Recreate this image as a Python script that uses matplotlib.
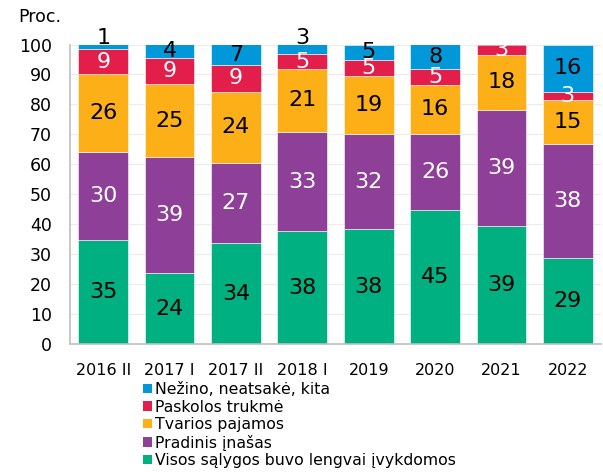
import matplotlib.pyplot as plt
import numpy as np

periods = ['2016 II', '2017 I', '2017 II', '2018 I', '2019', '2020', '2021', '2022']
series_names = ['Visos sąlygos buvo lengvai įvykdomos', 'Pradinis įnašas',
                'Tvarios pajamos', 'Paskolos trukmė', 'Nežino, neatsakė, kita']
visos = [34.6, 23.7, 33.6, 37.6, 38.3, 44.6, 39.3, 28.7]
pradinis = [29.5, 38.6, 27.0, 33.2, 31.8, 25.6, 38.9, 38.1]
tvarios = [25.9, 24.6, 23.6, 21.1, 19.4, 16.2, 18.4, 14.6]
trukme = [8.6, 8.7, 9.0, 4.8, 5.4, 5.3, 3.4, 2.6]
nezino = [1.4, 4.4, 6.8, 3.3, 5.1, 8.3, 0.0, 16.0]

colors = ['#00B081', '#8E3F97', '#FCAF17', '#E41E4A', '#0098D8']
label_colors = ['black', 'white', 'black', 'white', 'black']


def main():
	fig = plt.figure(figsize=(6.03, 4.72), dpi=100)
	ax = fig.add_axes([70/603, 1-344/472, 531/603, 299.5/472])
	data = [visos, pradinis, tvarios, trukme, nezino]
	x = np.arange(len(periods))
	bottom = np.zeros(len(periods))
	handles = []
	for k, vals in enumerate(data):
		vals = np.array(vals)
		b = ax.bar(x, vals, 0.75, bottom=bottom, color=colors[k],
				   edgecolor='white', linewidth=0.4, zorder=2)
		handles.append(b)
		for i, v in enumerate(vals):
			if v <= 0:
				continue
			top = min(bottom[i] + v, 100)
			visible = top - bottom[i]
			# small top segments get their label pushed above the plot
			if k == len(data) - 1 and visible < 4:
				yc = 102.3
			else:
				yc = bottom[i] + visible / 2
			ax.text(x[i], yc, f'{v:.0f}', ha='center', va='center',
					fontsize=16, color=label_colors[k], clip_on=False, zorder=3)
		bottom = bottom + vals

	ax.set_xlim(-0.5, len(periods) - 0.5)
	ax.set_ylim(0, 100)
	ax.set_yticks(range(0, 101, 10))
	ax.set_xticks(x)
	ax.set_xticklabels(periods, fontsize=11.5)
	ax.tick_params(axis='y', length=0, labelsize=12.5, pad=13)
	ax.tick_params(axis='x', length=0, pad=14)
	ax.grid(axis='y', color='#ececec', linewidth=0.8, zorder=0)
	ax.set_axisbelow(True)
	for s in ['top', 'right']:
		ax.spines[s].set_visible(False)
	ax.spines['left'].set_color('#bfbfbf')
	ax.spines['bottom'].set_color('#bfbfbf')
	ax.spines['left'].set_linewidth(1.2)
	ax.spines['bottom'].set_linewidth(1.2)

	fig.text(18/603, 1-17/472, 'Proc.', fontsize=12.5, va='center', ha='left')

	leg = fig.legend(handles[::-1], series_names[::-1], loc='upper left',
					 bbox_to_anchor=(143/603, 1-382/472), frameon=False,
					 fontsize=11.3, handlelength=0.55, handleheight=0.55,
					 handletextpad=0.2, labelspacing=0.16, borderpad=0,
					 borderaxespad=0)
	for h in leg.legend_handles:
		h.set_edgecolor('none')

	fig.savefig('out.png', dpi=100)


if __name__ == "__main__":
	main()
